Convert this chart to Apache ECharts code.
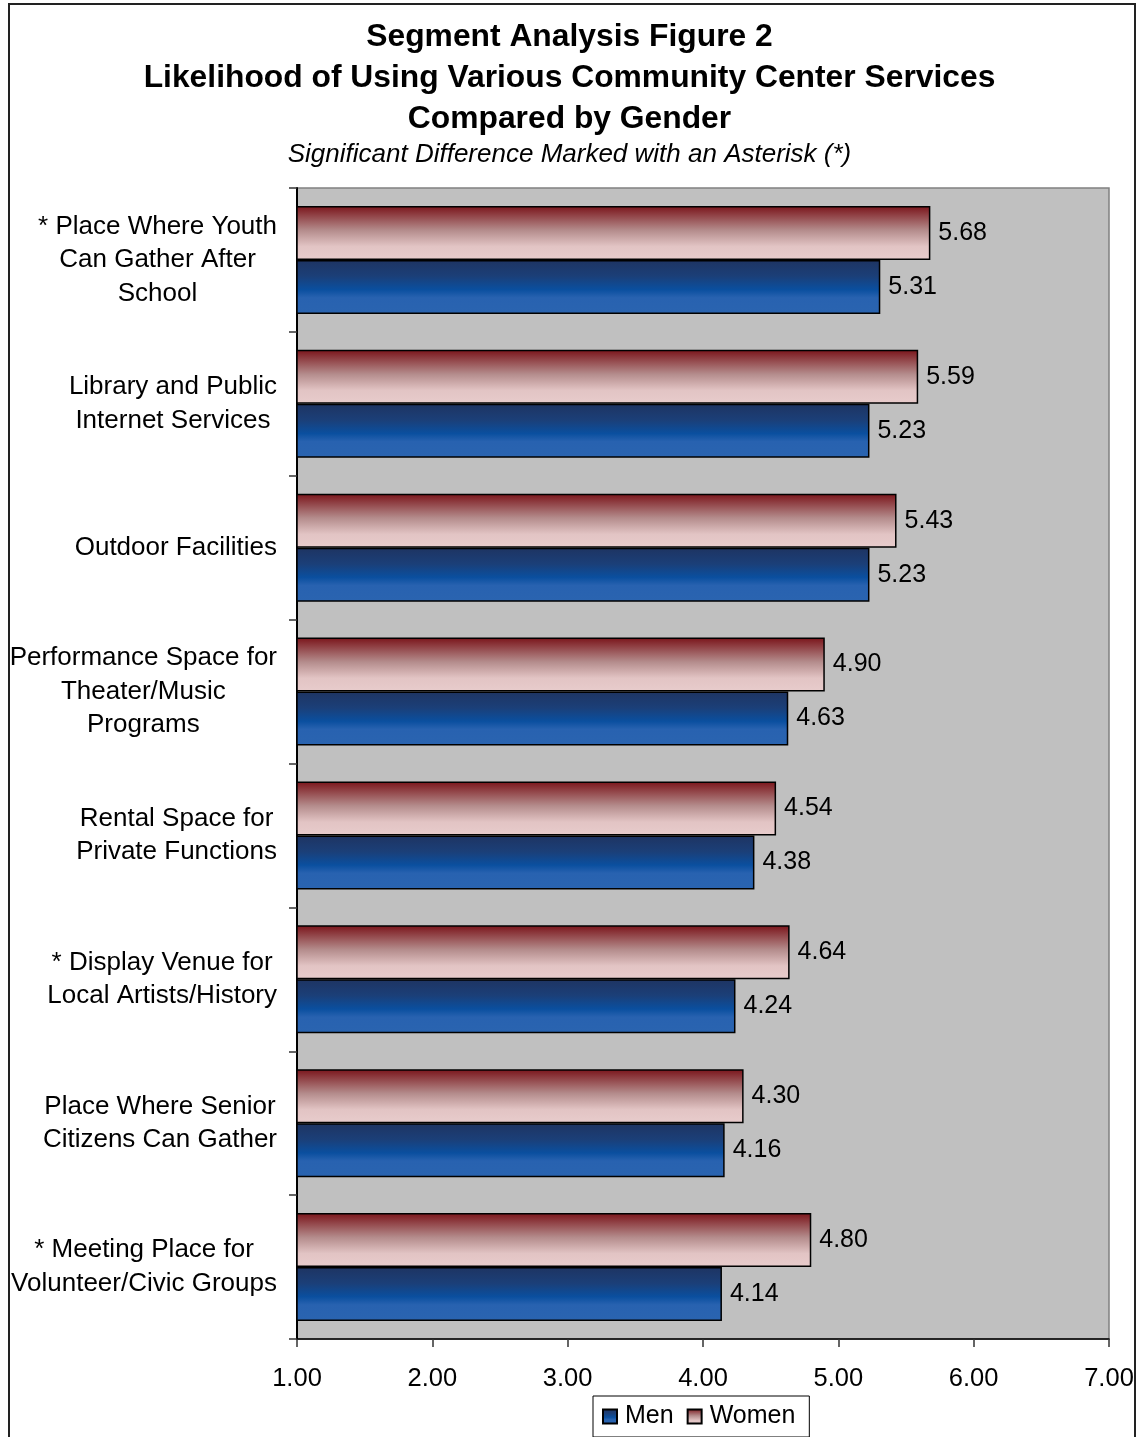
<!DOCTYPE html>
<html>
<head>
<meta charset="utf-8">
<script src="https://cdn.jsdelivr.net/npm/echarts@6/dist/echarts.min.js"></script>
<style>
  html, body { margin: 0; padding: 0; background: #fff; }
  #chart { width: 1139px; height: 1437px; }
  #frame { position: absolute; left: 8px; top: 3px; width: 1128px; height: 1450px;
           border: 2px solid #222; pointer-events: none; box-sizing: border-box; }
</style>
</head>
<body>
<div id="chart"></div>
<div id="frame"></div>
<script>
// Services surveyed (top to bottom)
const categories = [
  '* Place Where Youth\nCan Gather After\nSchool',
  'Library and Public\nInternet Services',
  'Outdoor Facilities',
  'Performance Space for\nTheater/Music\nPrograms',
  'Rental Space for\nPrivate Functions',
  '* Display Venue for\nLocal Artists/History',
  'Place Where Senior\nCitizens Can Gather',
  '* Meeting Place for\nVolunteer/Civic Groups'
];
// Mean likelihood scores
const women = [5.68, 5.59, 5.43, 4.90, 4.54, 4.64, 4.30, 4.80];
const men   = [5.31, 5.23, 5.23, 4.63, 4.38, 4.24, 4.16, 4.14];
// Value axis ticks
const xTicks = [1, 2, 3, 4, 5, 6, 7];

const FONT = "'Liberation Sans', Arial, sans-serif";

const womenFill = new echarts.graphic.LinearGradient(0, 0, 0, 1, [
  { offset: 0, color: '#7a141a' },
  { offset: 0.45, color: '#b48c8c' },
  { offset: 0.75, color: '#e2c4c4' },
  { offset: 1, color: '#e8cccc' }
]);
const menFill = new echarts.graphic.LinearGradient(0, 0, 0, 1, [
  { offset: 0, color: '#1e3462' },
  { offset: 0.3, color: '#1b3f78' },
  { offset: 0.55, color: '#0a4f9f' },
  { offset: 0.7, color: '#2862b0' },
  { offset: 1, color: '#2a64b0' }
]);

const valueLabel = {
  show: true, position: 'right', distance: 8,
  fontFamily: FONT, fontSize: 25, color: '#000',
  formatter: p => p.value.toFixed(2)
};

const chart = echarts.init(document.getElementById('chart'), null, { renderer: 'canvas' });

chart.setOption({
  backgroundColor: '#ffffff',
  animation: false,
  textStyle: { fontFamily: FONT },
  title: {
    text: 'Segment Analysis Figure 2\nLikelihood of Using Various Community Center Services\nCompared by Gender',
    subtext: 'Significant Difference Marked with an Asterisk (*)',
    left: 'center',
    top: 12,
    itemGap: 1,
    textStyle: { fontFamily: FONT, fontSize: 31.8, fontWeight: 'bold', color: '#000', lineHeight: 41 },
    subtextStyle: { fontFamily: FONT, fontSize: 26, fontStyle: 'italic', color: '#000', lineHeight: 28 }
  },
  legend: {
    data: ['Men', 'Women'],
    left: 593,
    top: 1396,
    padding: [8, 14, 8, 9],
    itemGap: 13,
    itemWidth: 14,
    itemHeight: 14,
    icon: 'rect',
    borderColor: '#000',
    borderWidth: 1,
    backgroundColor: '#fff',
    textStyle: { fontFamily: FONT, fontSize: 25, color: '#000', padding: [0, 0, 0, 3] }
  },
  grid: {
    left: 297, top: 188, right: 30, bottom: 98,
    show: true,
    backgroundColor: '#c0c0c0',
    borderColor: '#808080',
    borderWidth: 1.5
  },
  xAxis: {
    type: 'value',
    min: xTicks[0],
    max: xTicks[xTicks.length - 1],
    interval: 1,
    splitLine: { show: false },
    axisLine: { show: true, lineStyle: { color: '#000', width: 1.5 } },
    axisTick: { show: true, length: 8, lineStyle: { color: '#333', width: 1.5 } },
    axisLabel: {
      margin: 27,
      fontFamily: FONT, fontSize: 25.5, color: '#000',
      formatter: v => v.toFixed(2)
    }
  },
  yAxis: {
    type: 'category',
    inverse: true,
    data: categories,
    axisLine: { show: true, lineStyle: { color: '#000', width: 2 } },
    axisTick: { show: true, length: 8, lineStyle: { color: '#333', width: 1.5 } },
    axisLabel: {
      margin: 20,
      align: 'right',
      fontFamily: FONT, fontSize: 26, color: '#000', lineHeight: 33.5,
      formatter: v => v.split('\n').map(l => '{c|' + l + '}').join('\n'),
      rich: { c: { align: 'center', fontFamily: FONT, fontSize: 26, color: '#000', lineHeight: 33.5 } }
    }
  },
  series: [
    {
      name: 'Women',
      type: 'bar',
      data: women,
      barCategoryGap: '25%',
      barGap: '0%',
      itemStyle: { color: womenFill, borderColor: '#000', borderWidth: 1.5 },
      label: valueLabel
    },
    {
      name: 'Men',
      type: 'bar',
      data: men,
      barCategoryGap: '25%',
      barGap: '0%',
      itemStyle: { color: menFill, borderColor: '#000', borderWidth: 1.5 },
      label: valueLabel
    }
  ]
});
</script>
</body>
</html>
